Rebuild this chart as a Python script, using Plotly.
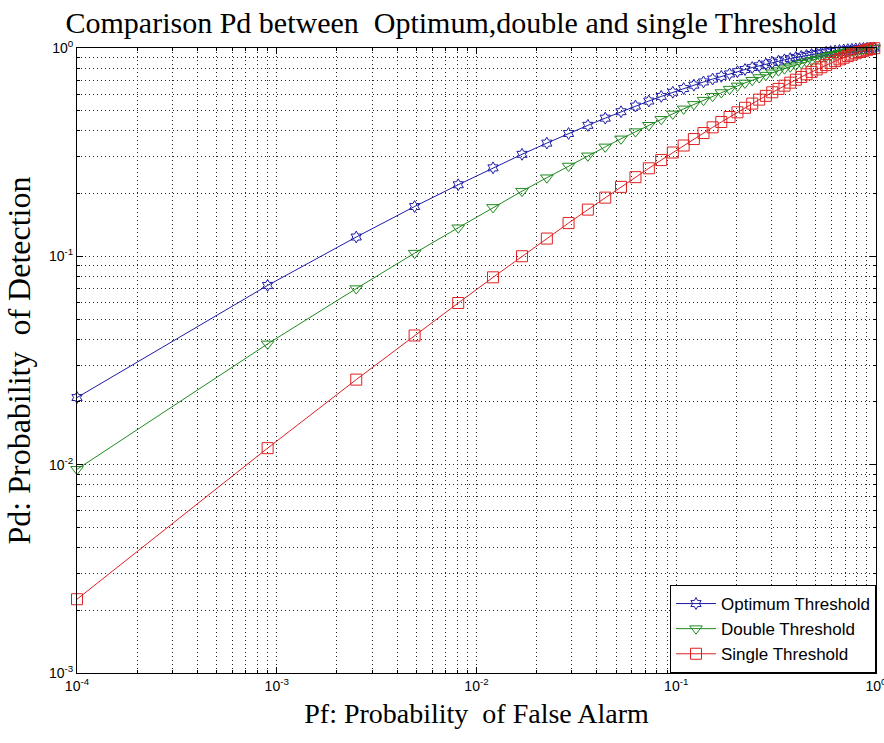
import plotly.graph_objects as go

# Pf values (x)
pf = [0.0001, 0.0009, 0.0025, 0.0049, 0.0081, 0.0121, 0.0169, 0.0225, 0.0289, 0.0361,
      0.0441, 0.0529, 0.0625, 0.0729, 0.0841, 0.0961, 0.1089, 0.1225, 0.1369, 0.1521,
      0.1681, 0.1849, 0.2025, 0.2209, 0.2401, 0.2601, 0.2809, 0.3025, 0.3249, 0.3481,
      0.3721, 0.3969, 0.4225, 0.4489, 0.4761, 0.5041, 0.5329, 0.5625, 0.5929, 0.6241,
      0.6561, 0.6889, 0.7225, 0.7569, 0.7921, 0.8281, 0.8649, 0.9025, 0.9409, 0.9801]

pd_optimum = [0.0210, 0.0725, 0.1238, 0.1734, 0.2206, 0.2659, 0.3088, 0.3495, 0.3887, 0.4254,
              0.4606, 0.4944, 0.5263, 0.5565, 0.5855, 0.6129, 0.6389, 0.6633, 0.6872, 0.7093,
              0.7309, 0.7509, 0.7697, 0.7884, 0.8053, 0.8215, 0.8370, 0.8512, 0.8651, 0.8775,
              0.8897, 0.9010, 0.9115, 0.9216, 0.9307, 0.9392, 0.9472, 0.9545, 0.9611, 0.9673,
              0.9728, 0.9778, 0.9824, 0.9864, 0.9899, 0.9928, 0.9953, 0.9973, 0.9988, 0.9998]

pd_double = [0.0095, 0.0380, 0.0700, 0.1036, 0.1371, 0.1717, 0.2055, 0.2384, 0.2714, 0.3037,
             0.3352, 0.3664, 0.3968, 0.4258, 0.4547, 0.4829, 0.5104, 0.5363, 0.5619, 0.5870,
             0.6113, 0.6348, 0.6576, 0.6796, 0.7007, 0.7216, 0.7412, 0.7604, 0.7785, 0.7959,
             0.8128, 0.8289, 0.8445, 0.8595, 0.8734, 0.8869, 0.8995, 0.9114, 0.9227, 0.9334,
             0.9434, 0.9523, 0.9610, 0.9688, 0.9759, 0.9823, 0.9878, 0.9925, 0.9964, 0.9992]

pd_single = [0.00226, 0.0120, 0.0256, 0.0417, 0.0597, 0.0793, 0.1001, 0.1217, 0.1444, 0.1676,
             0.1913, 0.2155, 0.2399, 0.2646, 0.2897, 0.3150, 0.3403, 0.3656, 0.3906, 0.4161,
             0.4412, 0.4665, 0.4912, 0.5164, 0.5410, 0.5651, 0.5893, 0.6129, 0.6363, 0.6594,
             0.6818, 0.7042, 0.7260, 0.7477, 0.7682, 0.7889, 0.8087, 0.8278, 0.8466, 0.8647,
             0.8820, 0.8984, 0.9144, 0.9296, 0.9439, 0.9570, 0.9693, 0.9801, 0.9899, 0.9975]

series_names = ["Optimum Threshold", "Double Threshold", "Single Threshold"]
title_text = "Comparison Pd between  Optimum,double and single Threshold"
x_title = "Pf: Probability  of False Alarm"
y_title = "Pd: Probability  of Detection"

x_tickvals = [1e-4, 1e-3, 1e-2, 1e-1, 1]
x_ticktext = ["10<sup>-4</sup>", "10<sup>-3</sup>", "10<sup>-2</sup>", "10<sup>-1</sup>", "10<sup>0</sup>"]
y_tickvals = [1e-3, 1e-2, 1e-1, 1]
y_ticktext = ["10<sup>-3</sup>", "10<sup>-2</sup>", "10<sup>-1</sup>", "10<sup>0</sup>"]

fig = go.Figure()
styles = [
    (pd_optimum, "#1c1ca8", "hexagram-open", 9),
    (pd_double, "#1f8a1f", "triangle-down-open", 11),
    (pd_single, "#e02020", "square-open", 11),
]
for name, (ys, col, sym, sz) in zip(series_names, styles):
    fig.add_trace(go.Scatter(
        x=pf, y=ys, name=name, mode="lines+markers", cliponaxis=False,
        line=dict(color=col, width=1),
        marker=dict(symbol=sym, size=sz, color=col, line=dict(color=col, width=1)),
    ))

serif = "Liberation Serif, Times New Roman"
grid_common = dict(
    type="log", showgrid=True, gridcolor="#222", gridwidth=1, griddash="1px,3px",
    showline=True, linecolor="black", linewidth=1, mirror="allticks",
    ticks="inside", ticklen=6, tickcolor="black", ticklabeloverflow="allow",
    tickfont=dict(family="Liberation Sans, Arial", size=14, color="black"),
    zeroline=False, automargin=False,
    minor=dict(dtick="D1", showgrid=True, gridcolor="#222", gridwidth=1, griddash="1px,3px",
               ticks="inside", ticklen=3, tickcolor="black"),
)

fig.update_xaxes(range=[-4, 0], tickvals=x_tickvals, ticktext=x_ticktext, **grid_common,
                 title=dict(text=x_title, font=dict(family=serif, size=28, color="black"), standoff=10))
fig.update_yaxes(range=[-3, 0], tickvals=y_tickvals, ticktext=y_ticktext, **grid_common,
                 title=dict(text=y_title, font=dict(family=serif, size=32, color="black"), standoff=8))

fig.update_layout(
    width=884, height=743,
    margin=dict(l=77, r=8, t=48, b=70),
    paper_bgcolor="white", plot_bgcolor="white",
    title=dict(text=title_text, x=451/884, xanchor="center", y=1-22/743, yanchor="middle",
               xref="container", yref="container",
               font=dict(family=serif, size=30, color="black")),
    showlegend=True,
    legend=dict(x=1, y=0, xanchor="right", yanchor="bottom", bgcolor="white",
                bordercolor="black", borderwidth=1,
                font=dict(family="Liberation Sans, Arial", size=17, color="black"),
                tracegroupgap=0, itemwidth=40),
)

fig.write_html("out.html", config={"displayModeBar": False},
               post_script="document.body.style.margin='0';document.body.style.overflow='hidden';")
